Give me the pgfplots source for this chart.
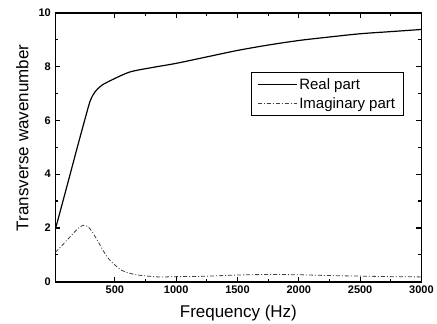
\documentclass[border=0pt]{standalone}
\usepackage{pgfplots}
\pgfplotsset{compat=1.18}
\usepackage{fontspec}
\setmainfont{Liberation Sans}
\begin{document}
\begin{tikzpicture}
\begin{axis}[
  scale only axis,
  width=366.4pt, height=269.2pt,
  xmin=15, xmax=3000, ymin=0, ymax=10,
  xtick={500,1000,1500,2000,2500,3000},
  ytick={0,2,4,6,8,10},
  minor x tick num=1, minor y tick num=1,
  tick align=inside,
  major tick length=5pt, minor tick length=3pt,
  every tick/.style={black, line width=1.2pt},
  axis line style={line width=1.6pt},
  tick label style={font=\fontsize{11}{12}\selectfont\bfseries},
  xticklabel style={yshift=-1pt},
  yticklabel style={xshift=-1pt},
  /pgf/number format/assume math mode=true,
  /pgf/number format/1000 sep={},
  xlabel={\fontsize{17}{19}\selectfont Frequency (Hz)},
  ylabel={\fontsize{17}{19}\selectfont Transverse wavenumber},
  every axis x label/.style={at={(rel axis cs:0.5,-0.115)}, anchor=center},
  every axis y label/.style={at={(rel axis cs:-0.09,0.535)}, anchor=center, rotate=90},
  legend style={at={(rel axis cs:0.951,0.78)}, anchor=north east, draw=black, line width=0.9pt,
    font=\fontsize{15}{17}\selectfont, inner xsep=6pt, inner ysep=4pt, row sep=2.5pt},
  legend cell align=left,
  legend image code/.code={\draw[#1] (0pt,0pt) -- (39pt,0pt);},
]
\addplot[black, line width=1.2pt, smooth, tension=0.5] coordinates {
(15,1.97) (25,2.12) (80,3.05) (138,4.04) (200,5.1) (270,6.27) (297,6.7) (320,6.93) (340,7.07) (392,7.3) (487,7.53) (623,7.8) (786,7.95) (1000,8.12) (1250,8.36) (1500,8.6) (1750,8.8) (2000,8.97) (2250,9.1) (2500,9.22) (2750,9.3) (3000,9.38)
};
\addlegendentry{Real part}
\addplot[black!75, line width=0.8pt, dash pattern=on 4pt off 2pt on 1pt off 2pt, smooth, tension=0.5] coordinates {
(15,1.1) (60,1.3) (100,1.5) (147,1.73) (200,1.98) (242,2.1) (270,2.07) (296,1.98) (330,1.75) (364,1.49) (410,1.12) (459,0.8) (554,0.43) (620,0.32) (690,0.25) (853,0.18) (1000,0.19) (1200,0.2) (1500,0.25) (1750,0.27) (2000,0.26) (2250,0.23) (2500,0.21) (2750,0.19) (3000,0.18)
};
\addlegendentry{Imaginary part}
\end{axis}
\path[use as bounding box] ([shift={(-55.4pt,-41pt)}]current axis.south west) rectangle ([shift={(15.2pt,12.8pt)}]current axis.north east);
\end{tikzpicture}
\end{document}
